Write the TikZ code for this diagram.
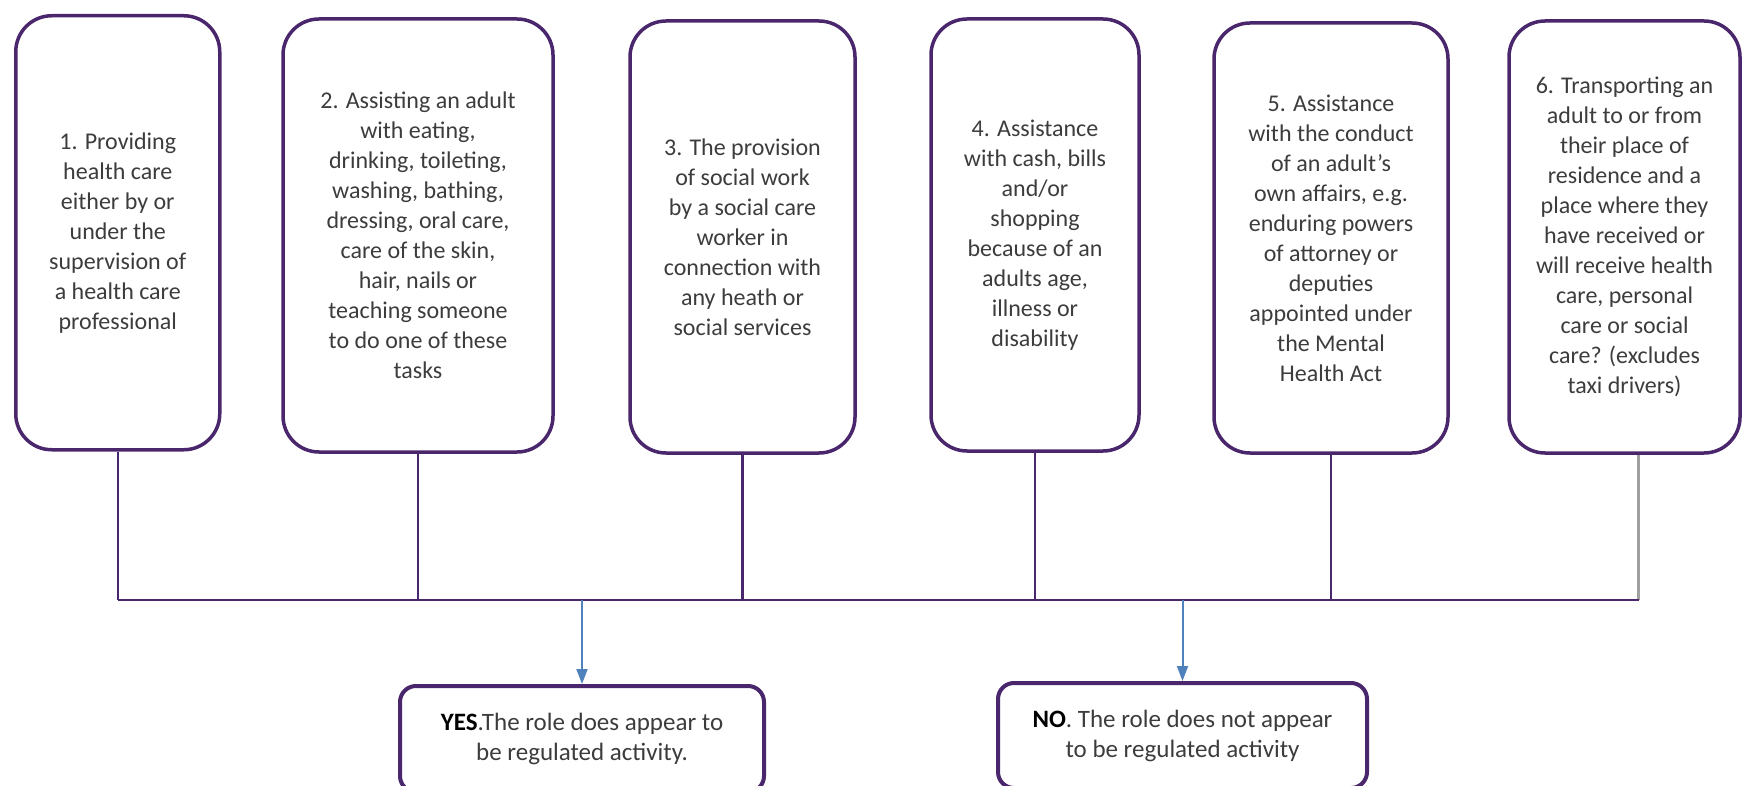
\documentclass[tikz,border=0pt]{standalone}
\usepackage{fontspec}
\setmainfont{Carlito}
\usetikzlibrary{arrows.meta}
\definecolor{boxpurple}{RGB}{74,38,108}
\definecolor{txtgray}{RGB}{60,60,60}
\definecolor{arrowblue}{RGB}{79,129,189}
\definecolor{linegray}{RGB}{160,160,160}
\tikzset{
  cbox/.style={draw=boxpurple, line width=3.5pt, rounded corners=36pt, align=center, text=txtgray, font=\fontsize{24}{30}\selectfont, inner sep=0pt},
  rbox/.style={draw=boxpurple, line width=4pt, rounded corners=16pt, align=center, text=txtgray, font=\fontsize{25}{30}\selectfont, inner sep=0pt},
  conn/.style={draw=boxpurple, line width=2.2pt},
  conngray/.style={draw=linegray, line width=2.2pt},
  arr/.style={draw=arrowblue, line width=2pt, -{Triangle[length=15pt,width=11pt]}},
}
\begin{document}
\begin{tikzpicture}[x=1pt,y=-1pt]
\useasboundingbox (0,0) rectangle (1742,786);
\node[cbox, minimum width=204pt, minimum height=434pt] (b1) at (117.75,232.75)
  {1. Providing\\health care\\either by or\\under the\\supervision of\\a health care\\professional};
\node[cbox, minimum width=270pt, minimum height=433pt] (b2) at (418,235.5)
  {2. Assisting an adult\\with eating,\\drinking, toileting,\\washing, bathing,\\dressing, oral care,\\care of the skin,\\hair, nails or\\teaching someone\\to do one of these\\tasks};
\node[cbox, minimum width=225pt, minimum height=432pt] (b3) at (742.5,237)
  {3. The provision\\of social work\\by a social care\\worker in\\connection with\\any heath or\\social services};
\node[cbox, minimum width=208pt, minimum height=432pt] (b4) at (1035,235)
  {4. Assistance\\with cash, bills\\and/or\\shopping\\because of an\\adults age,\\illness or\\disability};
\node[cbox, minimum width=234pt, minimum height=430pt] (b5) at (1331,238)
  {5. Assistance\\with the conduct\\of an adult’s\\own affairs, e.g.\\enduring powers\\of attorney or\\deputies\\appointed under\\the Mental\\Health Act};
\node[cbox, minimum width=231pt, minimum height=432pt] (b6) at (1624.5,237)
  {6. Transporting an\\adult to or from\\their place of\\residence and a\\place where they\\have received or\\will receive health\\care, personal\\care or social\\care? (excludes\\taxi drivers)};

\node[rbox, minimum width=364pt, minimum height=106pt] (yes) at (582,739)
  {\textcolor{black}{\textbf{YES}}.The role does appear to\\be regulated activity.};
\node[rbox, minimum width=369pt, minimum height=105pt] (no) at (1182.5,735.5)
  {\textcolor{black}{\textbf{NO}}. The role does not appear\\to be regulated activity};

\coordinate (bus) at (0,600);
\coordinate (t6) at ([xshift=14pt]b6.south);
\coordinate (j1) at (b1.south |- bus);
\coordinate (j2) at (b2.south |- bus);
\coordinate (j3) at (b3.south |- bus);
\coordinate (j4) at (b4.south |- bus);
\coordinate (j5) at (b5.south |- bus);
\coordinate (j6) at (t6 |- bus);
\draw[conn] (b1.south) -- (j1);
\draw[conn] (b2.south) -- (j2);
\draw[conn] (b3.south) -- (j3);
\draw[conn] (b4.south) -- (j4);
\draw[conn] (b5.south) -- (j5);
\draw[conngray] (t6) -- (j6);
\draw[conn] (j1) -- (j6);

\coordinate (ay) at (yes.north |- bus);
\coordinate (an) at (no.north |- bus);
\draw[arr] (ay) -- (yes.north);
\draw[arr] (an) -- (no.north);
\end{tikzpicture}
\end{document}
